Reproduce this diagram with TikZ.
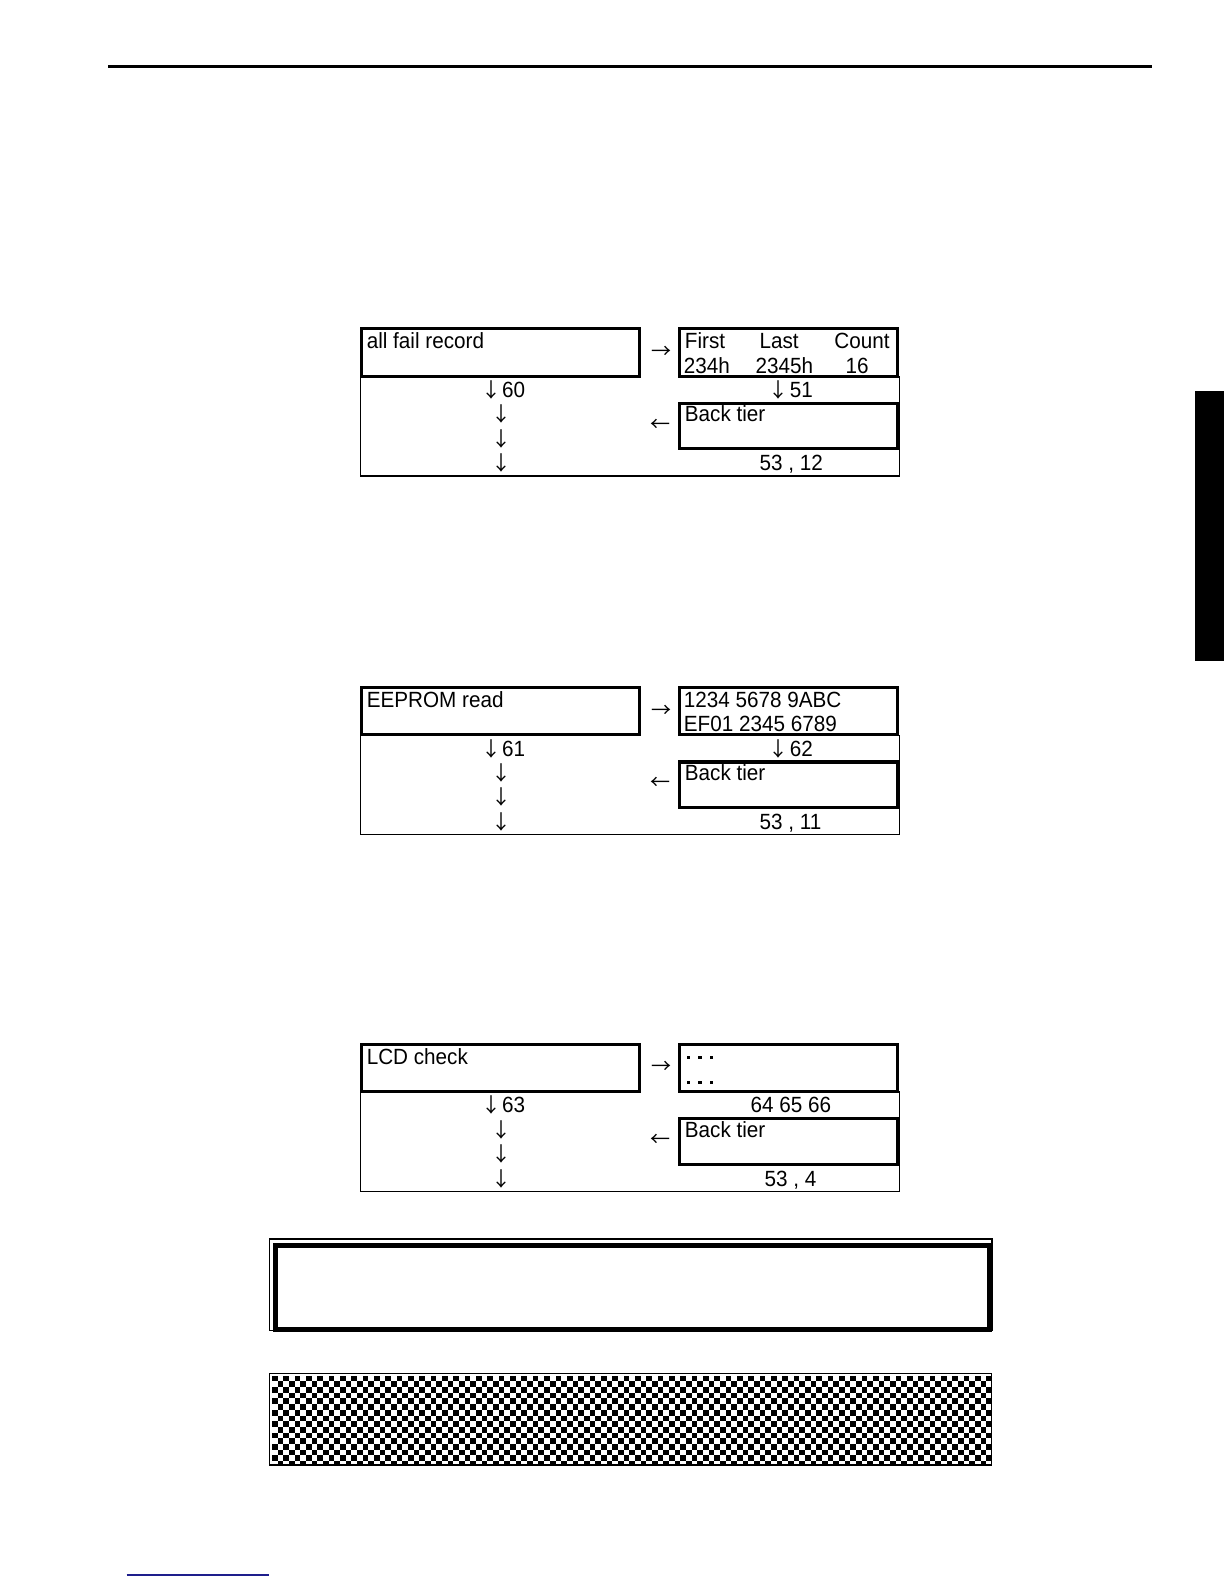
\documentclass[tikz,border=0pt]{standalone}
\usepackage{fontspec}
\setmainfont{Liberation Sans}[FakeStretch=0.94]
\newfontfamily\cjk{Noto Sans CJK JP}
\definecolor{linkblue}{RGB}{30,30,140}
\tikzset{
  thickbox/.style={line width=3.2pt},
  thinline/.style={line width=1.4pt},
  txt/.style={anchor=base west, inner sep=0pt, font=\fontsize{22}{26}\selectfont},
  varr/.style={anchor=base, inner sep=0pt, font=\cjk\fontsize{20}{24}\selectfont},
  harr/.style={anchor=center, inner sep=0pt, font=\cjk\fontsize{20}{24}\selectfont},
  dotsq/.style={fill=black},
}
\newcommand{\lcdframe}{%
  \draw[thickbox] (361.2,1.6) rectangle (639.8,48.9);
  \draw[thickbox] (679.2,1.6) rectangle (897.6,48.9);
  \draw[thickbox] (679.2,76.3) rectangle (897.6,121.6);
  \draw[thinline] (360.5,48.9) -- (360.5,148.8) -- (899.5,148.8) -- (899.5,48.9);
}
\begin{document}
\begin{tikzpicture}[x=1pt,y=-1pt]
\useasboundingbox (0,0) rectangle (1224,1584);
\fill[white] (0,0) rectangle (1224,1584);
% header rule, side tab, footer link line
\draw[line width=2.6pt] (108,66.7) -- (1152.3,66.7);
\fill (1195,391) rectangle (1224,661);
\draw[linkblue, line width=1.3pt] (126.5,1575) -- (269,1575);

% ---------- block 1 ----------
\begin{scope}[shift={(0,327.2)}]
  \lcdframe
  \node[txt] (a0) at (366.6,21.5) {all fail record};
  \node[txt] (a1) at (684.7,21.5) {First};
  \node[txt] (a2) at (759.4,21.5) {Last};
  \node[txt] (a3) at (834.2,21.5) {Count};
  \node[txt] (a4) at (683.7,45.9) {234h};
  \node[txt] (a5) at (755.4,45.9) {2345h};
  \node[txt] (a6) at (845.3,45.9) {16};
  \node[harr] (ar1) at (661.5,25.3) {→};
  \node[varr] (ad1) at (491.3,70.3) {↓};
  \node[txt] (an1) at (501.9,70.3) {60};
  \node[varr] (ad2) at (501.9,94.7) {↓};
  \node[varr] (ad3) at (501.9,119.1) {↓};
  \node[varr] (ad4) at (501.9,143.5) {↓};
  \node[varr] (ad5) at (778.6,70.3) {↓};
  \node[txt] (an2) at (789.7,70.3) {51};
  \node[txt] (ab) at (684.7,94.7) {Back tier};
  \node[harr] (al1) at (660.5,98) {←};
  \node[txt] (af) at (759.4,143.5) {53 , 12};
\end{scope}

% ---------- block 2 ----------
\begin{scope}[shift={(0,685.7)}]
  \lcdframe
  \node[txt] (b0) at (366.6,21.5) {EEPROM read};
  \node[txt] (b1) at (683.7,21.5) {1234 5678 9ABC};
  \node[txt] (b2) at (683.7,45.9) {EF01 2345 6789};
  \node[harr] (br1) at (661.5,25.3) {→};
  \node[varr] (bd1) at (491.3,70.3) {↓};
  \node[txt] (bn1) at (501.9,70.3) {61};
  \node[varr] (bd2) at (501.9,94.7) {↓};
  \node[varr] (bd3) at (501.9,119.1) {↓};
  \node[varr] (bd4) at (501.9,143.5) {↓};
  \node[varr] (bd5) at (778.6,70.3) {↓};
  \node[txt] (bn2) at (789.7,70.3) {62};
  \node[txt] (bb) at (684.7,94.7) {Back tier};
  \node[harr] (bl1) at (660.5,98) {←};
  \node[txt] (bf) at (759.4,143.5) {53 , 11};
\end{scope}

% ---------- block 3 ----------
\begin{scope}[shift={(0,1042.5)}]
  \lcdframe
  \node[txt] (c0) at (366.6,21.5) {LCD check};
  \foreach \yy in {13,38}{
    \foreach \xx in {686.7,698.3,709.6}{
      \fill[dotsq] (\xx,\yy) rectangle ++(3.4,3.4);
    }
  }
  \node[harr] (cr1) at (661.5,25.3) {→};
  \node[varr] (cd1) at (491.3,70.3) {↓};
  \node[txt] (cn1) at (501.9,70.3) {63};
  \node[varr] (cd2) at (501.9,94.7) {↓};
  \node[varr] (cd3) at (501.9,119.1) {↓};
  \node[varr] (cd4) at (501.9,143.5) {↓};
  \node[txt] (cn2) at (750.4,70.3) {64 65 66};
  \node[txt] (cb) at (684.7,94.7) {Back tier};
  \node[harr] (cl1) at (660.5,98) {←};
  \node[txt] (cf) at (764.5,143.5) {53 , 4};
\end{scope}

% ---------- double-framed box ----------
\draw[thinline] (269.7,1239) rectangle (992,1330.5);
\draw[line width=5pt] (275.8,1245.8) rectangle (989.8,1329.2);

% ---------- checkered box ----------
\begin{scope}
  \clip (270.3,1374.4) rectangle (991,1464.6);
  \foreach \j in {0,...,15}{
    \pgfmathtruncatemacro\cs{mod(\j,2)}
    \pgfmathtruncatemacro\ct{\cs+2}
    \foreach \i in {\cs,\ct,...,127}{
      \fill (272+5.67*\i,1375.8+5.67*\j) rectangle ++(5.67,5.67);
    }
  }
\end{scope}
\draw[thinline] (269.7,1373.7) rectangle (991.7,1465);
\end{tikzpicture}
\end{document}
